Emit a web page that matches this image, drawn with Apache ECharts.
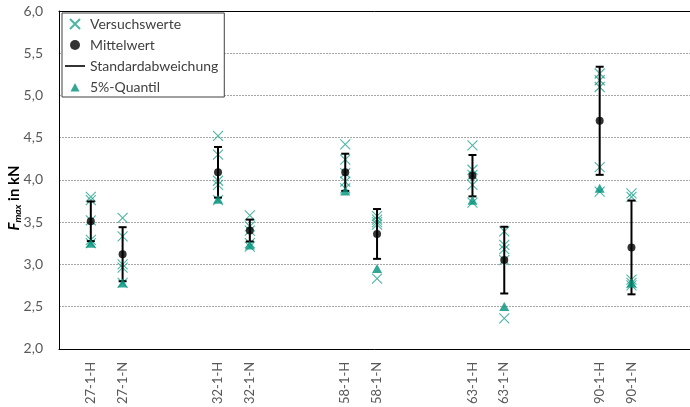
<!DOCTYPE html>
<html>
<head>
<meta charset="utf-8">
<script src="https://cdn.jsdelivr.net/npm/echarts@6/dist/echarts.min.js"></script>
<style>
html,body{margin:0;padding:0;background:#fff;overflow:hidden;width:690px;height:407px;}
#chart{width:690px;height:407px;}
</style>
</head>
<body>
<div id="chart"></div>
<script>
// Category slots of the x axis (blank slots separate the groups)
const axisSlots = ['', '27-1-H', '27-1-N', '', '', '32-1-H', '32-1-N', '', '', '58-1-H', '58-1-N', '', '', '63-1-H', '63-1-N', '', '', '90-1-H', '90-1-N', '', ''];
const categories = ['27-1-H', '27-1-N', '32-1-H', '32-1-N', '58-1-H', '58-1-N', '63-1-H', '63-1-N', '90-1-H', '90-1-N'];
// Versuchswerte (individual test results, kN)
const versuchswerte = [
  [3.80, 3.76, 3.52, 3.29, 3.25],
  [3.55, 3.33, 3.00, 2.96, 2.78],
  [4.52, 4.30, 3.99, 3.94, 3.76],
  [3.58, 3.45, 3.40, 3.25, 3.21],
  [4.42, 4.24, 4.08, 3.98, 3.90],
  [3.57, 3.53, 3.50, 3.47, 2.83],
  [4.41, 4.12, 4.06, 3.94, 3.73],
  [3.39, 3.23, 3.18, 3.05, 2.36],
  [5.26, 5.18, 5.10, 4.15, 3.86],
  [3.84, 3.80, 2.82, 2.78, 2.75]
];
const mittelwert = [3.51, 3.12, 4.09, 3.40, 4.09, 3.36, 4.05, 3.05, 4.70, 3.20];
const standardabweichung = [0.235, 0.32, 0.30, 0.13, 0.22, 0.295, 0.245, 0.395, 0.64, 0.555];
const quantil5 = [3.25, 2.78, 3.77, 3.23, 3.87, 2.95, 3.76, 2.50, 3.90, 2.78];
const yTicks = { min: 2.0, max: 6.0, interval: 0.5 };
const xRange = { min: 0, max: 19.84, interval: 1 };

const TEAL = '#22a28e';
const TEAL_DARK = '#00917c';
const FONT = 'Lato';

const slotOf = c => axisSlots.indexOf(c);
const crossData = [];
categories.forEach((c, i) => versuchswerte[i].forEach(v => crossData.push([slotOf(c), v])));
const meanData = categories.map((c, i) => [slotOf(c), mittelwert[i]]);
const errData = categories.map((c, i) => [slotOf(c), mittelwert[i], standardabweichung[i]]);
const quantData = categories.map((c, i) => [slotOf(c), quantil5[i]]);

const chart = echarts.init(document.getElementById('chart'), null, { renderer: 'canvas', width: 690, height: 407 });
const crossPath = 'path://M0,0L10,10M10,0L0,10';
const linePath = 'path://M0,0L0,0M0,4.2L20,4.2L20,5.8L0,5.8ZM20,10L20,10';
const triPath = 'path://M0,0L0,0M20,10L20,10M10,1L14.5,9.5L5.5,9.5Z';

chart.setOption({
  animation: false,
  backgroundColor: '#fff',
  textStyle: { fontFamily: FONT },
  grid: { left: 59, top: 11, bottom: 58, right: 0, show: false, containLabel: false },
  legend: {
    orient: 'vertical', left: 62, top: 13,
    backgroundColor: '#fff', borderColor: '#404040', borderWidth: 1,
    padding: [4, 6, 3, 3], itemGap: 7, itemWidth: 20, itemHeight: 10,
    textStyle: { fontFamily: FONT, fontSize: 14, color: '#404040', lineHeight: 14 },
    data: [
      { name: 'Versuchswerte', icon: crossPath },
      { name: 'Mittelwert', icon: 'circle' },
      { name: 'Standardabweichung', icon: linePath },
      { name: '5%-Quantil', icon: triPath }
    ]
  },
  xAxis: [{
    type: 'value', min: xRange.min, max: xRange.max, interval: xRange.interval,
    axisLine: { show: true, onZero: false, lineStyle: { color: '#000', width: 1 } },
    axisTick: { show: false },
    splitLine: { show: false },
    axisLabel: { rotate: 90, margin: 13, fontFamily: FONT, fontSize: 13, color: '#595959',
      showMaxLabel: false, showMinLabel: true,
      formatter: v => (Number.isInteger(v) && axisSlots[v]) ? axisSlots[v] : '' }
  }, {
    type: 'value', position: 'top', min: xRange.min, max: xRange.max,
    axisLine: { show: true, onZero: false, lineStyle: { color: '#000', width: 1 } },
    axisTick: { show: false }, axisLabel: { show: false }, splitLine: { show: false }
  }],
  yAxis: {
    type: 'value', min: yTicks.min, max: yTicks.max, interval: yTicks.interval,
    axisLine: { show: true, onZero: false, lineStyle: { color: '#000', width: 1 } },
    axisTick: { show: false },
    splitLine: { show: true, lineStyle: { color: '#a6a6a6', type: [2, 1], width: 1 } },
    axisLabel: { margin: 16, fontFamily: FONT, fontSize: 14, color: '#595959',
      formatter: v => v.toFixed(1).replace('.', ',') }
  },
  graphic: [{
    type: 'text', x: 14, y: 198, rotation: Math.PI / 2,
    style: {
      text: '{f|F}{s|max}{b| in kN}',
      align: 'center', verticalAlign: 'middle',
      rich: {
        f: { fontFamily: FONT, fontSize: 15, fontWeight: 'bold', fontStyle: 'italic', fill: '#000', lineHeight: 18 },
        s: { fontFamily: FONT, fontSize: 10, fontWeight: 'bold', fontStyle: 'italic', fill: '#000', verticalAlign: 'bottom', lineHeight: 12 },
        b: { fontFamily: FONT, fontSize: 15, fontWeight: 'bold', fill: '#000', lineHeight: 18 }
      }
    }
  }],
  series: [
    {
      name: 'Versuchswerte', type: 'scatter', data: crossData,
      symbol: crossPath, symbolSize: 10,
      itemStyle: { color: 'rgba(0,0,0,0)', borderColor: TEAL, borderWidth: 1.1 },
      z: 2
    },
    {
      name: 'Standardabweichung', type: 'custom', data: errData,
      itemStyle: { color: '#000' },
      renderItem: (params, api) => {
        const x = api.value(0), m = api.value(1), s = api.value(2);
        const top = api.coord([x, m + s]);
        const bot = api.coord([x, m - s]);
        const hw = 4;
        const st = { stroke: '#000', lineWidth: 2, fill: null };
        return {
          type: 'group', children: [
            { type: 'line', shape: { x1: top[0], y1: top[1], x2: bot[0], y2: bot[1] }, style: st },
            { type: 'line', shape: { x1: top[0] - hw, y1: top[1], x2: top[0] + hw, y2: top[1] }, style: st },
            { type: 'line', shape: { x1: bot[0] - hw, y1: bot[1], x2: bot[0] + hw, y2: bot[1] }, style: st }
          ]
        };
      },
      z: 3
    },
    {
      name: 'Mittelwert', type: 'scatter', data: meanData,
      symbol: 'circle', symbolSize: 8, itemStyle: { color: '#000' }, z: 4
    },
    {
      name: '5%-Quantil', type: 'scatter', data: quantData,
      symbol: 'triangle', symbolSize: [10, 9], itemStyle: { color: TEAL_DARK }, z: 5
    }
  ]
});
</script>
</body>
</html>
